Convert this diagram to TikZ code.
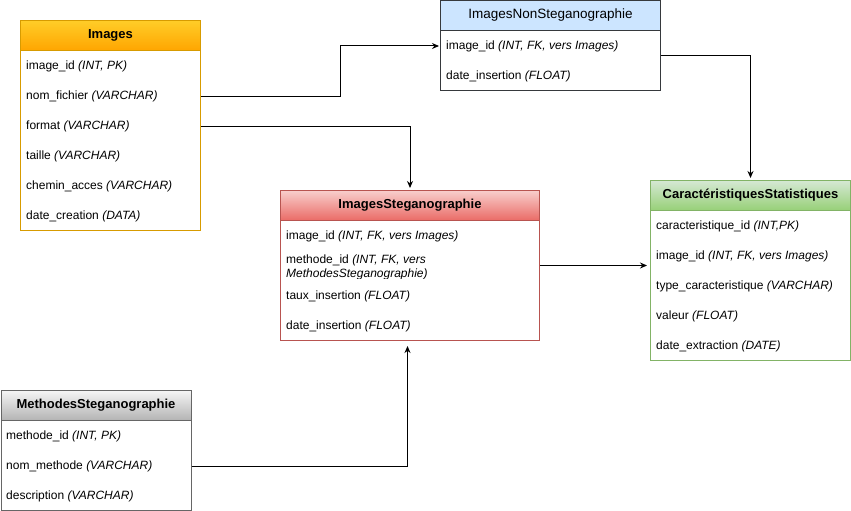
\documentclass[tikz,border=0pt]{standalone}
\usepackage{fontspec}
\setmainfont{Liberation Sans}
\usetikzlibrary{arrows.meta}

\definecolor{orangeline}{HTML}{D79B00}
\definecolor{orangetop}{HTML}{FFCD28}
\definecolor{orangebot}{HTML}{FFA500}
\definecolor{blueline}{HTML}{36393D}
\definecolor{bluefill}{HTML}{CCE5FF}
\definecolor{redline}{HTML}{B85450}
\definecolor{redtop}{HTML}{F8CECC}
\definecolor{redbot}{HTML}{EA6B66}
\definecolor{greenline}{HTML}{82B366}
\definecolor{greentop}{HTML}{D5E8D4}
\definecolor{greenbot}{HTML}{97D077}
\definecolor{grayline}{HTML}{666666}
\definecolor{graytop}{HTML}{F5F5F5}
\definecolor{graybot}{HTML}{B3B3B3}

\begin{document}
\begin{tikzpicture}[x=1pt,y=-1pt,
    tbl/.style={draw, line width=1pt, fill=white, anchor=north west, inner sep=0pt},
    head/.style={draw, line width=1pt, anchor=north west, inner sep=0pt, minimum height=30pt},
    title/.style={font=\bfseries\fontsize{13}{15}\selectfont},
    field/.style={anchor=west, inner sep=0pt, yshift=-1pt, font=\fontsize{12}{14}\selectfont},
    conn/.style={line width=1pt, -{Stealth[length=7pt,width=6pt]}}]

    \useasboundingbox (0,0) rectangle (851,511);

    % Images
    \node[tbl, draw=orangeline, minimum width=180pt, minimum height=210pt] (img) at (20,20) {};
    \node[head, draw=orangeline, top color=orangetop, bottom color=orangebot, minimum width=180pt] (img-h) at (20,20) {};
    \node[title] at (img-h) {Images};
    \node[field] (img-1) at (26,65) {image\_id \textit{(INT, PK)}};
    \node[field] (img-2) at (26,95) {nom\_fichier \textit{(VARCHAR)}};
    \node[field] (img-3) at (26,125) {format \textit{(VARCHAR)}};
    \node[field] (img-4) at (26,155) {taille \textit{(VARCHAR)}};
    \node[field] (img-5) at (26,185) {chemin\_acces \textit{(VARCHAR)}};
    \node[field] (img-6) at (26,215) {date\_creation \textit{(DATA)}};

    % ImagesNonSteganographie
    \node[tbl, draw=blueline, minimum width=220pt, minimum height=90pt] (nonsteg) at (440,0) {};
    \node[head, draw=blueline, fill=bluefill, minimum width=220pt] (nonsteg-h) at (440,0) {};
    \node[font=\fontsize{13.5}{15}\selectfont] at (nonsteg-h) {ImagesNonSteganographie};
    \node[field] (nonsteg-1) at (446,45) {image\_id \textit{(INT, FK, vers Images)}};
    \node[field] (nonsteg-2) at (446,75) {date\_insertion \textit{(FLOAT)}};

    % ImagesSteganographie
    \node[tbl, draw=redline, minimum width=259pt, minimum height=150pt] (steg) at (280,190) {};
    \node[head, draw=redline, top color=redtop, bottom color=redbot, minimum width=259pt] (steg-h) at (280,190) {};
    \node[title] at (steg-h) {ImagesSteganographie};
    \node[field] (steg-1) at (286,235) {image\_id \textit{(INT, FK, vers Images)}};
    \begin{scope}
        \clip (281,245) rectangle (538,278);
        \node[field, align=left] (steg-2) at (286,266) {methode\_id \textit{(INT, FK, vers}\\\textit{MethodesSteganographie)}};
    \end{scope}
    \node[field] (steg-3) at (286,295) {taux\_insertion \textit{(FLOAT)}};
    \node[field] (steg-4) at (286,325) {date\_insertion \textit{(FLOAT)}};

    % CaractéristiquesStatistiques
    \node[tbl, draw=greenline, minimum width=200pt, minimum height=180pt] (carac) at (650,180) {};
    \node[head, draw=greenline, top color=greentop, bottom color=greenbot, minimum width=200pt] (carac-h) at (650,180) {};
    \node[title] at (carac-h) {CaractéristiquesStatistiques};
    \node[field] (carac-1) at (656,225) {caracteristique\_id \textit{(INT,PK)}};
    \node[field] (carac-2) at (656,255) {image\_id \textit{(INT, FK, vers Images)}};
    \node[field] (carac-3) at (656,285) {type\_caracteristique \textit{(VARCHAR)}};
    \node[field] (carac-4) at (656,315) {valeur \textit{(FLOAT)}};
    \node[field] (carac-5) at (656,345) {date\_extraction \textit{(DATE)}};

    % MethodesSteganographie
    \node[tbl, draw=grayline, minimum width=190pt, minimum height=120pt] (meth) at (0.5,390) {};
    \node[head, draw=grayline, top color=graytop, bottom color=graybot, minimum width=190pt] (meth-h) at (0.5,390) {};
    \node[title] at (meth-h) {MethodesSteganographie};
    \node[field] (meth-1) at (6,435) {methode\_id \textit{(INT, PK)}};
    \node[field] (meth-2) at (6,465) {nom\_methode \textit{(VARCHAR)}};
    \node[field] (meth-3) at (6,495) {description \textit{(VARCHAR)}};

    % liens
    \draw[conn, shorten >=1pt] (img.east |- img-2) -- ++(139.5,0) |- (nonsteg.west |- nonsteg-1);
    \draw[conn, shorten >=2pt] (img.east |- img-3) -| (steg.north);
    \draw[conn, shorten >=2pt] ([yshift=-10pt]nonsteg.east) -| (carac.north);
    \draw[conn, shorten >=3pt] (steg.east) -- (carac.west |- steg.east);
    \draw[conn, shorten >=5pt] (meth.east |- meth-2) -| ([xshift=-2.5pt]steg.south);

\end{tikzpicture}
\end{document}
